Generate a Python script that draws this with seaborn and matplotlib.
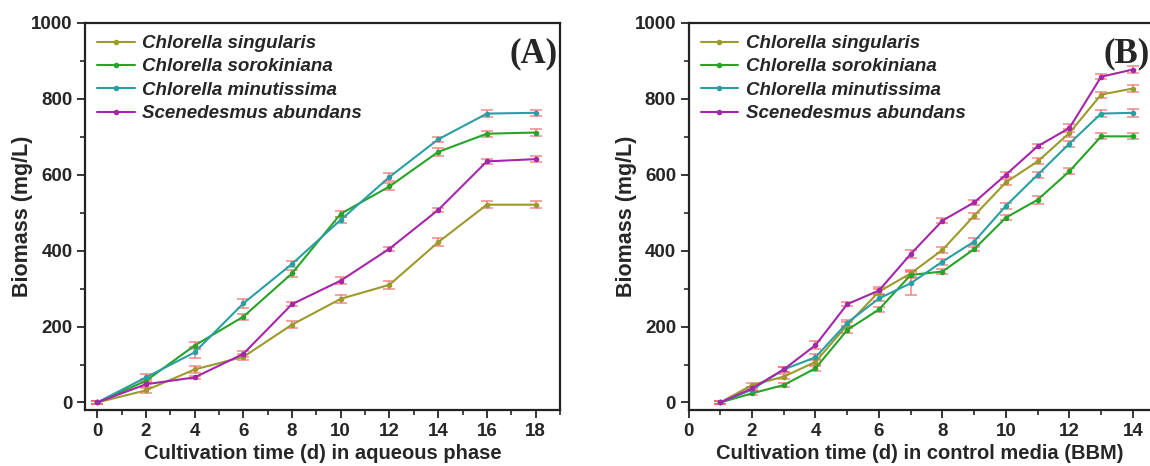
"""Biomass growth curves of four microalgae in aqueous phase vs BBM control."""
import matplotlib
matplotlib.use("Agg")
import matplotlib.pyplot as plt
import pandas as pd
import seaborn as sns
from matplotlib.ticker import MultipleLocator

SPECIES = [
    "Chlorella singularis",
    "Chlorella sorokiniana",
    "Chlorella minutissima",
    "Scenedesmus abundans",
]
COLORS = ["#9d9a2c", "#27a327", "#2a9fa3", "#a526aa"]
ERR_COLOR = "#f06a6a"

# panel A: aqueous phase, days 0..18
days_a = [0, 2, 4, 6, 8, 10, 12, 14, 16, 18]
sing_a = [0, 32, 87, 120, 205, 273, 310, 422, 521, 521]
soro_a = [0, 57, 150, 226, 340, 497, 569, 660, 708, 711]
minu_a = [0, 66, 132, 261, 365, 481, 594, 693, 761, 763]
abun_a = [0, 48, 66, 128, 259, 321, 405, 507, 635, 641]
sing_a_err = [3, 6, 10, 8, 10, 10, 10, 10, 10, 10]
soro_a_err = [3, 6, 10, 8, 10, 8, 10, 10, 8, 10]
minu_a_err = [3, 8, 15, 12, 8, 8, 10, 6, 10, 8]
abun_a_err = [3, 6, 5, 8, 6, 10, 5, 5, 6, 8]

# panel B: control media (BBM), days 1..14
days_b = [1, 2, 3, 4, 5, 6, 7, 8, 9, 10, 11, 12, 13, 14]
sing_b = [0, 46, 68, 107, 204, 292, 340, 402, 492, 580, 635, 710, 811, 827]
soro_b = [0, 24, 46, 90, 191, 245, 336, 345, 404, 487, 534, 609, 701, 701]
minu_b = [0, 34, 87, 119, 210, 274, 314, 371, 424, 518, 600, 682, 761, 763]
abun_b = [0, 37, 87, 151, 259, 295, 391, 479, 527, 600, 675, 723, 858, 877]
sing_b_err = [3, 6, 6, 8, 8, 8, 10, 8, 8, 8, 8, 10, 8, 10]
soro_b_err = [3, 5, 5, 6, 8, 6, 8, 6, 6, 6, 10, 8, 8, 8]
minu_b_err = [3, 5, 6, 8, 8, 8, 32, 8, 10, 8, 8, 8, 10, 10]
abun_b_err = [3, 5, 6, 10, 6, 8, 10, 6, 6, 6, 6, 10, 6, 8]


def to_frame(days, series, errs):
    rows = []
    for name, vals, err in zip(SPECIES, series, errs):
        for d, v, e in zip(days, vals, err):
            rows.append({"day": d, "biomass": v, "err": e, "species": name})
    return pd.DataFrame(rows)


def draw_panel(ax, df, xlabel, tag, xlim, xmax_tick, ylab_x):
    for name, color in zip(SPECIES, COLORS):
        sub = df[df["species"] == name]
        ax.errorbar(sub["day"], sub["biomass"], yerr=sub["err"], fmt="none",
                    ecolor=ERR_COLOR, elinewidth=1.1, capsize=4, capthick=1.1,
                    alpha=0.8, zorder=3)
    sns.lineplot(data=df, x="day", y="biomass", hue="species",
                 hue_order=SPECIES, palette=COLORS, marker="o", markersize=4,
                 markeredgewidth=0, linewidth=1.5, ax=ax, zorder=4)
    ax.set_xlim(*xlim)
    ax.set_ylim(-20, 1000)
    ax.set_xticks(range(0, xmax_tick + 1, 2))
    ax.xaxis.set_minor_locator(MultipleLocator(1))
    ax.yaxis.set_major_locator(MultipleLocator(200))
    ax.yaxis.set_minor_locator(MultipleLocator(100))
    ax.tick_params(which="major", direction="out", length=6, width=1.3,
                   labelsize=13.5, pad=3)
    ax.tick_params(which="minor", direction="out", length=3.5, width=1.2)
    for lab in ax.get_xticklabels() + ax.get_yticklabels():
        lab.set_fontweight("bold")
    for sp in ax.spines.values():
        sp.set_linewidth(1.6)
        sp.set_color("#222222")
    ax.set_xlabel(xlabel, fontsize=14.5, fontweight="bold", labelpad=3)
    ax.set_ylabel("Biomass (mg/L)", fontsize=15.5, fontweight="bold")
    ax.yaxis.set_label_coords(ylab_x, 0.5)
    leg = ax.legend(loc="upper left", frameon=False, handlelength=2.0,
                    labelspacing=0.33, borderaxespad=0.35, handletextpad=0.4,
                    borderpad=0.3,
                    prop={"size": 13.5, "style": "italic", "weight": "bold"})
    for line in leg.get_lines():
        line.set_linewidth(1.5)
    ax.text(0.995, 0.92, tag, transform=ax.transAxes, ha="right", va="center",
            family="Liberation Serif", fontsize=25, fontweight="bold")


def main() -> None:
    sns.set_style("ticks")
    plt.rcParams["font.family"] = ["Liberation Sans", "DejaVu Sans"]

    df_a = to_frame(days_a, [sing_a, soro_a, minu_a, abun_a],
                    [sing_a_err, soro_a_err, minu_a_err, abun_a_err])
    df_b = to_frame(days_b, [sing_b, soro_b, minu_b, abun_b],
                    [sing_b_err, soro_b_err, minu_b_err, abun_b_err])

    fig = plt.figure(figsize=(11.5, 4.66), dpi=100)
    ax1 = fig.add_axes([0.0739, 0.120, 0.413, 0.831])
    ax2 = fig.add_axes([0.5987, 0.120, 0.403, 0.831])

    draw_panel(ax1, df_a, "Cultivation time (d) in aqueous phase", "(A)",
               (-0.5, 19), 18, -0.109)
    draw_panel(ax2, df_b, "Cultivation time (d) in control media (BBM)", "(B)",
               (0, 14.6), 14, -0.112)

    fig.savefig("out.png", dpi=100, facecolor="white")
    plt.close(fig)


if __name__ == "__main__":
    main()
